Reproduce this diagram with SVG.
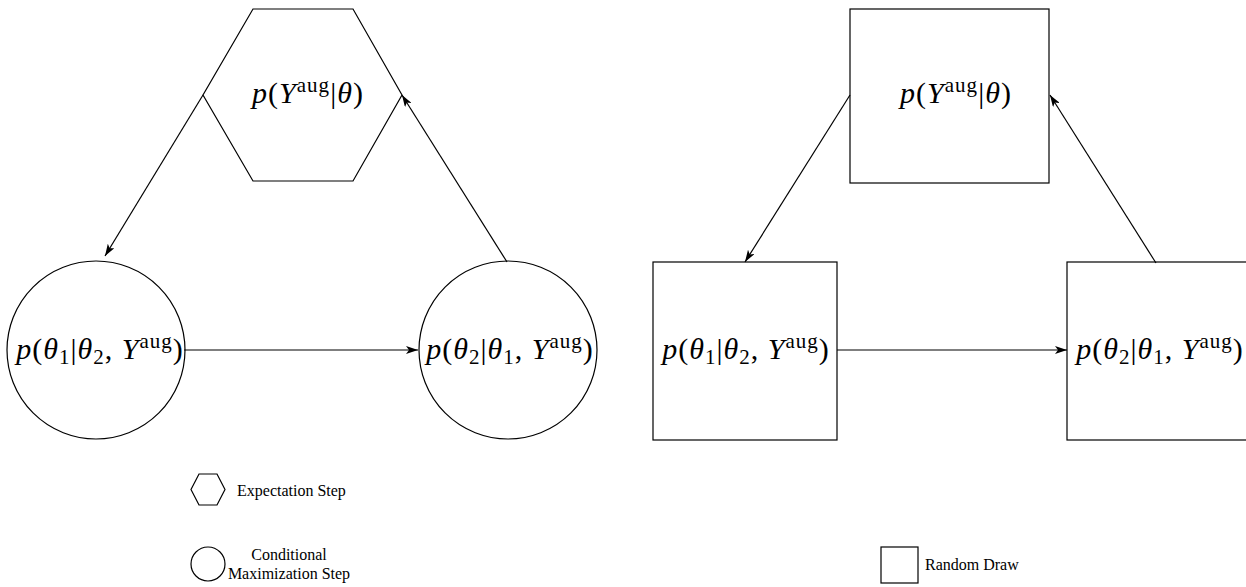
<svg xmlns="http://www.w3.org/2000/svg" width="1246" height="587" viewBox="0 0 1246 587">
<style>
.shape{fill:none;stroke:#000;stroke-width:1.2}
.edge{fill:none;stroke:#000;stroke-width:1.2}
.m{font-family:"Liberation Serif",serif;font-size:30px;letter-spacing:1px;fill:#000}
.i{font-style:italic}
.s{font-size:21px;font-style:normal}
.lg{font-family:"Liberation Serif",serif;font-size:16px;fill:#000}
</style>
<defs>
<marker id="ah" markerUnits="userSpaceOnUse" markerWidth="14" markerHeight="8" refX="12" refY="4" orient="auto">
<path d="M0,0 L12,4 L0,8 L3,4 z" fill="#000"/>
</marker>
</defs>
<rect width="1246" height="587" fill="#fff"/>
<g id="connectors">
<line class="edge" x1="203" y1="95" x2="105" y2="256" marker-end="url(#ah)"/>
<line class="edge" x1="507" y1="262" x2="402" y2="95" marker-end="url(#ah)"/>
<line class="edge" x1="184" y1="350" x2="418" y2="350" marker-end="url(#ah)"/>
<line class="edge" x1="850" y1="95" x2="745" y2="262" marker-end="url(#ah)"/>
<line class="edge" x1="1156" y1="263" x2="1050" y2="95" marker-end="url(#ah)"/>
<line class="edge" x1="837" y1="350" x2="1067" y2="350" marker-end="url(#ah)"/>
</g>
<g id="hex-E">
<polygon class="shape" points="253,9 353,9 402,95 353,181 253,181 203,95"/>
<text class="m" x="308" y="103" text-anchor="middle"><tspan class="i">p</tspan>(<tspan class="i">Y</tspan><tspan class="s" dy="-11">aug</tspan><tspan dy="11">|</tspan><tspan class="i">θ</tspan>)</text>
</g>
<g id="circle-1">
<circle class="shape" cx="96" cy="350" r="89"/>
<text class="m" x="100" y="359" text-anchor="middle"><tspan class="i">p</tspan>(<tspan class="i">θ</tspan><tspan class="s" dy="5">1</tspan><tspan dy="-5">|</tspan><tspan class="i">θ</tspan><tspan class="s" dy="5">2</tspan><tspan dy="-5">, </tspan><tspan class="i">Y</tspan><tspan class="s" dy="-11">aug</tspan><tspan dy="11">)</tspan></text>
</g>
<g id="circle-2">
<circle class="shape" cx="508" cy="350" r="89"/>
<text class="m" x="510" y="359" text-anchor="middle"><tspan class="i">p</tspan>(<tspan class="i">θ</tspan><tspan class="s" dy="5">2</tspan><tspan dy="-5">|</tspan><tspan class="i">θ</tspan><tspan class="s" dy="5">1</tspan><tspan dy="-5">, </tspan><tspan class="i">Y</tspan><tspan class="s" dy="-11">aug</tspan><tspan dy="11">)</tspan></text>
</g>
<g id="square-top">
<rect class="shape" x="850" y="9" width="199" height="174"/>
<text class="m" x="956" y="103" text-anchor="middle"><tspan class="i">p</tspan>(<tspan class="i">Y</tspan><tspan class="s" dy="-11">aug</tspan><tspan dy="11">|</tspan><tspan class="i">θ</tspan>)</text>
</g>
<g id="square-1">
<rect class="shape" x="653" y="262" width="184" height="178"/>
<text class="m" x="746" y="359" text-anchor="middle"><tspan class="i">p</tspan>(<tspan class="i">θ</tspan><tspan class="s" dy="5">1</tspan><tspan dy="-5">|</tspan><tspan class="i">θ</tspan><tspan class="s" dy="5">2</tspan><tspan dy="-5">, </tspan><tspan class="i">Y</tspan><tspan class="s" dy="-11">aug</tspan><tspan dy="11">)</tspan></text>
</g>
<g id="square-2">
<rect class="shape" x="1067" y="262" width="200" height="178"/>
<text class="m" x="1160" y="359" text-anchor="middle"><tspan class="i">p</tspan>(<tspan class="i">θ</tspan><tspan class="s" dy="5">2</tspan><tspan dy="-5">|</tspan><tspan class="i">θ</tspan><tspan class="s" dy="5">1</tspan><tspan dy="-5">, </tspan><tspan class="i">Y</tspan><tspan class="s" dy="-11">aug</tspan><tspan dy="11">)</tspan></text>
</g>
<g id="legend-hex">
<polygon class="shape" points="199,474 217,474 225,489.5 217,505 199,505 191,489.5"/>
<text class="lg" x="237" y="496">Expectation Step</text>
</g>
<g id="legend-circle">
<circle class="shape" cx="208" cy="564" r="17"/>
<text class="lg" x="289" y="560" text-anchor="middle">Conditional</text>
<text class="lg" x="289" y="579" text-anchor="middle">Maximization Step</text>
</g>
<g id="legend-square">
<rect class="shape" x="881" y="547" width="37" height="36"/>
<text class="lg" x="925" y="570">Random Draw</text>
</g>
</svg>
